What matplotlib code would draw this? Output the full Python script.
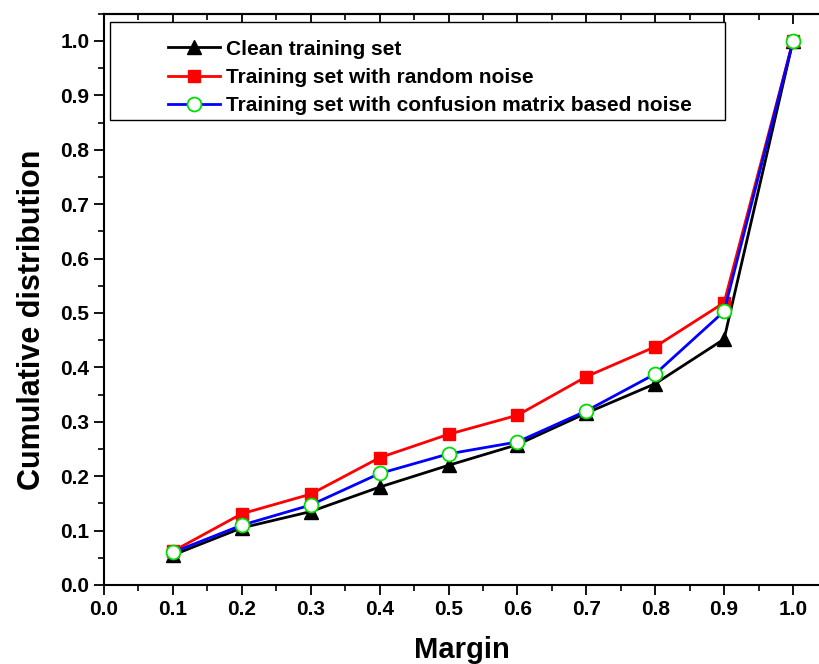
import matplotlib
matplotlib.use("Agg")
import matplotlib.pyplot as plt
from matplotlib.ticker import MultipleLocator
from matplotlib.patches import Rectangle

# data
margin = [0.1, 0.2, 0.3, 0.4, 0.5, 0.6, 0.7, 0.8, 0.9, 1.0]
clean = [0.055, 0.105, 0.135, 0.180, 0.220, 0.258, 0.316, 0.370, 0.452, 1.0]
random_noise = [0.062, 0.131, 0.167, 0.234, 0.277, 0.312, 0.383, 0.438, 0.519, 1.0]
confusion_noise = [0.060, 0.110, 0.147, 0.205, 0.241, 0.263, 0.320, 0.388, 0.503, 1.0]

labels = ["Clean training set",
          "Training set with random noise",
          "Training set with confusion matrix based noise"]

plt.rcParams['font.family'] = ['Liberation Sans', 'DejaVu Sans']
plt.rcParams['font.weight'] = 'bold'

fig = plt.figure(figsize=(8.19, 6.64), dpi=100)
# x=0 at 104px, x=1.0 at 793px; y=0 at 585px, y=1.0 at 41px
ax = fig.add_axes([104/819, (664-585)/664, 1.04*689/819, 1.05*544/664])

ax.plot(margin, clean, color='black', lw=2, marker='^', ms=10,
        mfc='black', mec='black', label=labels[0])
ax.plot(margin, random_noise, color='red', lw=2, marker='s', ms=8,
        mfc='red', mec='red', label=labels[1])
ax.plot(margin, confusion_noise, color='blue', lw=2, marker='o', ms=10,
        mfc='white', mec='#00dd00', mew=1.3, label=labels[2])

ax.set_xlim(0, 1.04)
ax.set_ylim(0, 1.05)
ax.xaxis.set_major_locator(MultipleLocator(0.1))
ax.xaxis.set_minor_locator(MultipleLocator(0.05))
ax.yaxis.set_major_locator(MultipleLocator(0.1))
ax.yaxis.set_minor_locator(MultipleLocator(0.05))
ax.xaxis.set_major_formatter(plt.FormatStrFormatter('%.1f'))
ax.yaxis.set_major_formatter(plt.FormatStrFormatter('%.1f'))

ax.tick_params(axis='both', which='major', direction='out', length=7, width=1.3,
               labelsize=15)
ax.tick_params(axis='both', which='minor', direction='out', length=4, width=1.2)
ax.tick_params(axis='x', which='major', pad=4)
for lab in ax.get_xticklabels() + ax.get_yticklabels():
    lab.set_fontweight('bold')
for s in ax.spines.values():
    s.set_linewidth(1.5)

# top axis: inward ticks, no labels
top = ax.secondary_xaxis('top')
top.xaxis.set_major_locator(MultipleLocator(0.1))
top.xaxis.set_minor_locator(MultipleLocator(0.05))
top.tick_params(which='major', direction='in', length=7, width=1.3, labeltop=False)
top.tick_params(which='minor', direction='in', length=4, width=1.2)
top.spines['top'].set_linewidth(1.5)

ax.set_xlabel("Margin", fontsize=21, fontweight='bold', labelpad=12)
ax.set_ylabel("Cumulative distribution", fontsize=22, fontweight='bold')
ax.yaxis.set_label_coords(-0.08, 0.465)

# legend frame drawn as a box, legend entries placed inside it
ax.add_patch(Rectangle((0.0084, 0.814), 0.858, 0.1716, transform=ax.transAxes,
                       fill=True, facecolor='white', edgecolor='black', lw=1.0,
                       zorder=4))
leg = ax.legend(loc='upper left', bbox_to_anchor=(0.0893, 0.955), frameon=False,
                handlelength=2.5, handletextpad=0.3, borderpad=0,
                labelspacing=0.45, borderaxespad=0,
                prop={'weight': 'bold', 'size': 15})
leg.set_zorder(5)
fig.savefig("out.png", dpi=100)
